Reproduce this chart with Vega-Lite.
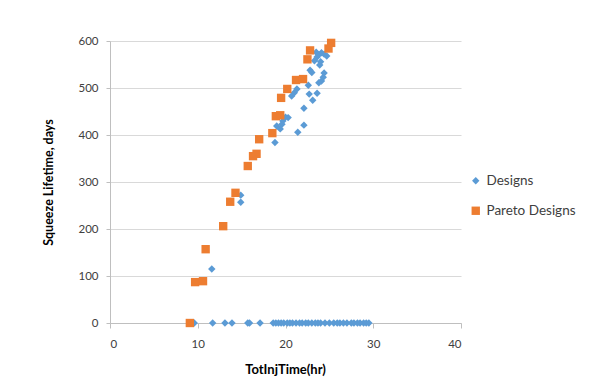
{
  "$schema": "https://vega.github.io/schema/vega-lite/v6.json",
  "width": 351,
  "height": 282,
  "autosize": "none",
  "padding": {"left": 110, "top": 41, "right": 145, "bottom": 60},
  "background": "white",
  "config": {
    "font": "Lato",
    "view": {"stroke": null},
    "axis": {"labelFont": "Lato", "titleFont": "Lato", "labelColor": "#404040", "titleColor": "#000000", "domainColor": "#bfbfbf", "tickColor": "#bfbfbf", "gridColor": "#d9d9d9"}
  },
  "data": {
    "values": [
      {"t": 9.1, "life": 0, "series": "Pareto Designs"},
      {"t": 9.7, "life": 87, "series": "Pareto Designs"},
      {"t": 10.6, "life": 89, "series": "Pareto Designs"},
      {"t": 10.9, "life": 157, "series": "Pareto Designs"},
      {"t": 12.9, "life": 206, "series": "Pareto Designs"},
      {"t": 13.7, "life": 258, "series": "Pareto Designs"},
      {"t": 14.3, "life": 277, "series": "Pareto Designs"},
      {"t": 15.7, "life": 334, "series": "Pareto Designs"},
      {"t": 16.3, "life": 355, "series": "Pareto Designs"},
      {"t": 16.7, "life": 360, "series": "Pareto Designs"},
      {"t": 17.0, "life": 391, "series": "Pareto Designs"},
      {"t": 18.5, "life": 404, "series": "Pareto Designs"},
      {"t": 18.9, "life": 440, "series": "Pareto Designs"},
      {"t": 19.4, "life": 442, "series": "Pareto Designs"},
      {"t": 19.5, "life": 479, "series": "Pareto Designs"},
      {"t": 20.2, "life": 498, "series": "Pareto Designs"},
      {"t": 21.2, "life": 517, "series": "Pareto Designs"},
      {"t": 22.0, "life": 519, "series": "Pareto Designs"},
      {"t": 22.5, "life": 561, "series": "Pareto Designs"},
      {"t": 22.8, "life": 580, "series": "Pareto Designs"},
      {"t": 24.9, "life": 584, "series": "Pareto Designs"},
      {"t": 25.2, "life": 596, "series": "Pareto Designs"},
      {"t": 9.6, "life": 0, "series": "Designs"},
      {"t": 11.7, "life": 0, "series": "Designs"},
      {"t": 13.1, "life": 0, "series": "Designs"},
      {"t": 13.9, "life": 0, "series": "Designs"},
      {"t": 15.7, "life": 0, "series": "Designs"},
      {"t": 15.9, "life": 0, "series": "Designs"},
      {"t": 17.1, "life": 0, "series": "Designs"},
      {"t": 18.6, "life": 0, "series": "Designs"},
      {"t": 18.9, "life": 0, "series": "Designs"},
      {"t": 19.2, "life": 0, "series": "Designs"},
      {"t": 19.5, "life": 0, "series": "Designs"},
      {"t": 19.8, "life": 0, "series": "Designs"},
      {"t": 20.2, "life": 0, "series": "Designs"},
      {"t": 20.5, "life": 0, "series": "Designs"},
      {"t": 20.8, "life": 0, "series": "Designs"},
      {"t": 21.2, "life": 0, "series": "Designs"},
      {"t": 21.6, "life": 0, "series": "Designs"},
      {"t": 21.9, "life": 0, "series": "Designs"},
      {"t": 22.3, "life": 0, "series": "Designs"},
      {"t": 22.6, "life": 0, "series": "Designs"},
      {"t": 23.0, "life": 0, "series": "Designs"},
      {"t": 23.4, "life": 0, "series": "Designs"},
      {"t": 23.7, "life": 0, "series": "Designs"},
      {"t": 24.0, "life": 0, "series": "Designs"},
      {"t": 24.5, "life": 0, "series": "Designs"},
      {"t": 25.0, "life": 0, "series": "Designs"},
      {"t": 25.5, "life": 0, "series": "Designs"},
      {"t": 25.9, "life": 0, "series": "Designs"},
      {"t": 26.2, "life": 0, "series": "Designs"},
      {"t": 26.6, "life": 0, "series": "Designs"},
      {"t": 27.0, "life": 0, "series": "Designs"},
      {"t": 27.5, "life": 0, "series": "Designs"},
      {"t": 27.8, "life": 0, "series": "Designs"},
      {"t": 28.2, "life": 0, "series": "Designs"},
      {"t": 28.5, "life": 0, "series": "Designs"},
      {"t": 28.9, "life": 0, "series": "Designs"},
      {"t": 29.2, "life": 0, "series": "Designs"},
      {"t": 29.5, "life": 0, "series": "Designs"},
      {"t": 11.6, "life": 115, "series": "Designs"},
      {"t": 14.9, "life": 272, "series": "Designs"},
      {"t": 14.9, "life": 257, "series": "Designs"},
      {"t": 18.8, "life": 384, "series": "Designs"},
      {"t": 19.0, "life": 419, "series": "Designs"},
      {"t": 19.4, "life": 413, "series": "Designs"},
      {"t": 19.6, "life": 423, "series": "Designs"},
      {"t": 19.7, "life": 430, "series": "Designs"},
      {"t": 20.0, "life": 438, "series": "Designs"},
      {"t": 20.3, "life": 437, "series": "Designs"},
      {"t": 21.4, "life": 406, "series": "Designs"},
      {"t": 22.1, "life": 421, "series": "Designs"},
      {"t": 22.1, "life": 457, "series": "Designs"},
      {"t": 20.7, "life": 483, "series": "Designs"},
      {"t": 21.0, "life": 490, "series": "Designs"},
      {"t": 21.3, "life": 498, "series": "Designs"},
      {"t": 22.7, "life": 487, "series": "Designs"},
      {"t": 22.6, "life": 506, "series": "Designs"},
      {"t": 23.1, "life": 474, "series": "Designs"},
      {"t": 23.6, "life": 489, "series": "Designs"},
      {"t": 23.8, "life": 511, "series": "Designs"},
      {"t": 24.1, "life": 515, "series": "Designs"},
      {"t": 24.3, "life": 523, "series": "Designs"},
      {"t": 24.4, "life": 532, "series": "Designs"},
      {"t": 22.8, "life": 538, "series": "Designs"},
      {"t": 23.0, "life": 533, "series": "Designs"},
      {"t": 23.3, "life": 558, "series": "Designs"},
      {"t": 23.6, "life": 566, "series": "Designs"},
      {"t": 23.8, "life": 571, "series": "Designs"},
      {"t": 24.1, "life": 575, "series": "Designs"},
      {"t": 24.4, "life": 572, "series": "Designs"},
      {"t": 23.5, "life": 576, "series": "Designs"},
      {"t": 24.7, "life": 568, "series": "Designs"},
      {"t": 23.9, "life": 549, "series": "Designs"},
      {"t": 24.0, "life": 556, "series": "Designs"}
    ]
  },
  "mark": {"type": "point", "filled": true, "opacity": 1},
  "encoding": {
    "x": {
      "field": "t", "type": "quantitative",
      "scale": {"domain": [0, 40], "nice": false, "zero": true},
      "axis": {"values": [0, 10, 20, 30, 40], "grid": false, "title": "TotInjTime(hr)", "titleFontSize": 13, "titleFontWeight": "bold", "labelFontSize": 11.5, "labelPadding": 10, "tickSize": 5, "titleX": 175, "titleY": 46, "titleBaseline": "middle"}
    },
    "y": {
      "field": "life", "type": "quantitative",
      "scale": {"domain": [0, 600], "nice": false},
      "axis": {"values": [0, 100, 200, 300, 400, 500, 600], "grid": true, "domain": true, "ticks": true, "tickSize": 4, "title": "Squeeze Lifetime, days", "titleFontSize": 12.5, "titleFontWeight": "bold", "labelFontSize": 11.5, "labelPadding": 8, "titleX": -62, "titleY": 141, "titleAngle": -90, "titleBaseline": "middle"}
    },
    "color": {
      "field": "series", "type": "nominal",
      "scale": {"domain": ["Designs", "Pareto Designs"], "range": ["#5B9BD5", "#ED7D31"]},
      "legend": {"title": null, "orient": "none", "legendX": 359, "legendY": 133, "labelFontSize": 13.5, "labelFont": "Lato", "labelColor": "#404040", "rowPadding": 15, "symbolSize": 50}
    },
    "shape": {
      "field": "series", "type": "nominal",
      "scale": {"domain": ["Designs", "Pareto Designs"], "range": ["diamond", "square"]},
      "legend": null
    },
    "size": {
      "field": "series", "type": "nominal",
      "scale": {"domain": ["Designs", "Pareto Designs"], "range": [55, 70]},
      "legend": null
    },
    "order": {"field": "series", "sort": "ascending"}
  }
}
